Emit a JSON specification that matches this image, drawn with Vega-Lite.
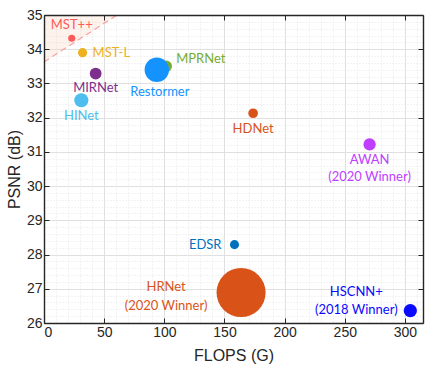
{
  "$schema": "https://vega.github.io/schema/vega-lite/v6.json",
  "width": 379,
  "height": 308,
  "autosize": {"type": "none"},
  "padding": {"left": 44, "top": 15, "right": 15, "bottom": 53},
  "background": "white",
  "config": {
    "view": {"stroke": null},
    "axis": {
      "labelFont": "Liberation Sans",
      "labelFontSize": 14,
      "labelColor": "#262626",
      "titleFont": "Liberation Sans",
      "titleFontSize": 16,
      "titleFontWeight": "normal",
      "titleColor": "#262626",
      "domainColor": "#262626",
      "tickColor": "#262626",
      "grid": false
    }
  },
  "datasets": {
    "models": [
      {"name": "MST++", "flops": 23.05, "psnr": 34.32, "params": 1.62, "note": ""},
      {"name": "MST-L", "flops": 32.07, "psnr": 33.90, "params": 2.45, "note": ""},
      {"name": "MIRNet", "flops": 42.95, "psnr": 33.29, "params": 3.75, "note": ""},
      {"name": "HINet", "flops": 31.04, "psnr": 32.51, "params": 5.21, "note": ""},
      {"name": "MPRNet", "flops": 101.59, "psnr": 33.50, "params": 3.62, "note": ""},
      {"name": "Restormer", "flops": 93.77, "psnr": 33.40, "params": 15.11, "note": ""},
      {"name": "HDNet", "flops": 173.81, "psnr": 32.13, "params": 2.66, "note": ""},
      {"name": "AWAN", "flops": 270.61, "psnr": 31.22, "params": 4.04, "note": "(2020 Winner)"},
      {"name": "EDSR", "flops": 158.32, "psnr": 28.29, "params": 2.42, "note": ""},
      {"name": "HRNet", "flops": 163.81, "psnr": 26.89, "params": 31.70, "note": "(2020 Winner)"},
      {"name": "HSCNN+", "flops": 304.45, "psnr": 26.36, "params": 4.65, "note": "(2018 Winner)"}
    ],
    "boundary": [
      {"flops": 0, "psnr": 33.63},
      {"flops": 60.8, "psnr": 35}
    ]
  },
  "resolve": {"axis": {"x": "independent", "y": "independent"}},
  "layer": [
    {
      "data": {"name": "boundary"},
      "mark": {"type": "area", "color": "#fbd3c3", "opacity": 0.3},
      "encoding": {
        "x": {"field": "flops", "type": "quantitative", "scale": {"domain": [0, 315], "nice": false, "zero": false},
          "axis": {"orient": "bottom", "values": [0, 50, 100, 150, 200, 250, 300], "grid": true, "gridColor": "#e0e0e0", "domain": false, "ticks": false, "labels": false, "title": null, "zindex": 0}},
        "y": {"field": "psnr", "type": "quantitative", "scale": {"domain": [26, 35], "nice": false, "zero": false},
          "axis": {"orient": "left", "values": [26, 27, 28, 29, 30, 31, 32, 33, 34, 35], "grid": true, "gridColor": "#e0e0e0", "domain": false, "ticks": false, "labels": false, "title": null, "zindex": 0}},
        "y2": {"datum": 35}
      }
    },
    {
      "data": {"name": "boundary"},
      "mark": {"type": "line", "color": "#f7a0a0", "strokeDash": [6, 4], "strokeWidth": 1.2},
      "encoding": {
        "x": {"field": "flops", "type": "quantitative",
          "axis": {"orient": "bottom", "values": [10, 20, 30, 40, 60, 70, 80, 90, 110, 120, 130, 140, 160, 170, 180, 190, 210, 220, 230, 240, 260, 270, 280, 290, 310], "grid": true, "gridColor": "#e6e6e6", "gridDash": [1, 2], "domain": false, "ticks": false, "labels": false, "title": null, "zindex": 0}},
        "y": {"field": "psnr", "type": "quantitative",
          "axis": {"orient": "left", "values": [26.2, 26.4, 26.6, 26.8, 27.2, 27.4, 27.6, 27.8, 28.2, 28.4, 28.6, 28.8, 29.2, 29.4, 29.6, 29.8, 30.2, 30.4, 30.6, 30.8, 31.2, 31.4, 31.6, 31.8, 32.2, 32.4, 32.6, 32.8, 33.2, 33.4, 33.6, 33.8, 34.2, 34.4, 34.6, 34.8], "grid": true, "gridColor": "#e6e6e6", "gridDash": [1, 2], "domain": false, "ticks": false, "labels": false, "title": null, "zindex": 0}}
      }
    },
    {
      "data": {"name": "models"},
      "mark": {"type": "circle", "opacity": 1},
      "encoding": {
        "x": {"field": "flops", "type": "quantitative",
          "axis": {"orient": "bottom", "values": [0, 50, 100, 150, 200, 250, 300], "title": "FLOPS (G)", "tickSize": -5, "labelPadding": 7, "titlePadding": 8, "domainWidth": 1.4, "zindex": 1}},
        "y": {"field": "psnr", "type": "quantitative",
          "axis": {"orient": "left", "values": [26, 27, 28, 29, 30, 31, 32, 33, 34, 35], "title": "PSNR (dB)", "tickSize": -5, "labelPadding": 7, "titlePadding": 4, "domainWidth": 1.4, "zindex": 1}},
        "size": {"field": "params", "type": "quantitative", "legend": null,
          "scale": {"domain": [0, 1.62, 5, 15.11, 31.7], "range": [0, 50, 190, 598, 2410]}},
        "color": {"field": "name", "type": "nominal", "legend": null,
          "scale": {"domain": ["MST++", "MST-L", "MIRNet", "HINet", "MPRNet", "Restormer", "HDNet", "AWAN", "EDSR", "HRNet", "HSCNN+"],
            "range": ["#ff5a5a", "#edb120", "#7e2f8e", "#4dbeee", "#77ac30", "#1493ff", "#d95319", "#bf3eff", "#0072bd", "#d95319", "#0a0aff"]}}
      }
    },
    {
      "data": {"name": "models"},
      "transform": [{"filter": "datum.name === 'MST++'"}],
      "mark": {"type": "text", "align": "center", "baseline": "middle", "dy": -13, "font": "Lato", "fontSize": 13},
      "encoding": {
        "x": {"field": "flops", "type": "quantitative",
          "axis": {"orient": "top", "values": [0, 50, 100, 150, 200, 250, 300], "labels": false, "title": null, "tickSize": -5, "domainWidth": 1.4, "zindex": 1}},
        "y": {"field": "psnr", "type": "quantitative",
          "axis": {"orient": "right", "values": [26, 27, 28, 29, 30, 31, 32, 33, 34, 35], "labels": false, "title": null, "tickSize": -5, "domainWidth": 1.4, "zindex": 1}},
        "text": {"field": "name"},
        "color": {"field": "name", "type": "nominal", "legend": null}
      }
    },
    {
      "data": {"name": "models"},
      "transform": [{"filter": "datum.name === 'MST-L'"}],
      "mark": {"type": "text", "align": "left", "baseline": "middle", "dx": 10, "font": "Lato", "fontSize": 13},
      "encoding": {
        "x": {"field": "flops", "type": "quantitative", "axis": null},
        "y": {"field": "psnr", "type": "quantitative", "axis": null},
        "text": {"field": "name"},
        "color": {"field": "name", "type": "nominal", "legend": null}
      }
    },
    {
      "data": {"name": "models"},
      "transform": [{"filter": "datum.name === 'MPRNet'"}],
      "mark": {"type": "text", "align": "left", "baseline": "middle", "dx": 10, "dy": -7, "font": "Lato", "fontSize": 13},
      "encoding": {
        "x": {"field": "flops", "type": "quantitative", "axis": null},
        "y": {"field": "psnr", "type": "quantitative", "axis": null},
        "text": {"field": "name"},
        "color": {"field": "name", "type": "nominal", "legend": null}
      }
    },
    {
      "data": {"name": "models"},
      "transform": [{"filter": "datum.name === 'MIRNet'"}],
      "mark": {"type": "text", "align": "center", "baseline": "middle", "dy": 14, "font": "Lato", "fontSize": 13},
      "encoding": {
        "x": {"field": "flops", "type": "quantitative", "axis": null},
        "y": {"field": "psnr", "type": "quantitative", "axis": null},
        "text": {"field": "name"},
        "color": {"field": "name", "type": "nominal", "legend": null}
      }
    },
    {
      "data": {"name": "models"},
      "transform": [{"filter": "datum.name === 'HINet' || datum.name === 'HDNet' || datum.name === 'AWAN'"}],
      "mark": {"type": "text", "align": "center", "baseline": "middle", "dy": 16, "font": "Lato", "fontSize": 13},
      "encoding": {
        "x": {"field": "flops", "type": "quantitative", "axis": null},
        "y": {"field": "psnr", "type": "quantitative", "axis": null},
        "text": {"field": "name"},
        "color": {"field": "name", "type": "nominal", "legend": null}
      }
    },
    {
      "data": {"name": "models"},
      "transform": [{"filter": "datum.name === 'AWAN'"}],
      "mark": {"type": "text", "align": "center", "baseline": "middle", "dy": 33, "font": "Lato", "fontSize": 13},
      "encoding": {
        "x": {"field": "flops", "type": "quantitative", "axis": null},
        "y": {"field": "psnr", "type": "quantitative", "axis": null},
        "text": {"field": "note"},
        "color": {"field": "name", "type": "nominal", "legend": null}
      }
    },
    {
      "data": {"name": "models"},
      "transform": [{"filter": "datum.name === 'Restormer'"}],
      "mark": {"type": "text", "align": "center", "baseline": "middle", "dx": 3, "dy": 22, "font": "Lato", "fontSize": 13},
      "encoding": {
        "x": {"field": "flops", "type": "quantitative", "axis": null},
        "y": {"field": "psnr", "type": "quantitative", "axis": null},
        "text": {"field": "name"},
        "color": {"field": "name", "type": "nominal", "legend": null}
      }
    },
    {
      "data": {"name": "models"},
      "transform": [{"filter": "datum.name === 'EDSR'"}],
      "mark": {"type": "text", "align": "right", "baseline": "middle", "dx": -13, "font": "Lato", "fontSize": 13},
      "encoding": {
        "x": {"field": "flops", "type": "quantitative", "axis": null},
        "y": {"field": "psnr", "type": "quantitative", "axis": null},
        "text": {"field": "name"},
        "color": {"field": "name", "type": "nominal", "legend": null}
      }
    },
    {
      "data": {"name": "models"},
      "transform": [{"filter": "datum.name === 'HRNet'"}],
      "mark": {"type": "text", "align": "center", "baseline": "middle", "dx": -75, "dy": -6, "font": "Lato", "fontSize": 13},
      "encoding": {
        "x": {"field": "flops", "type": "quantitative", "axis": null},
        "y": {"field": "psnr", "type": "quantitative", "axis": null},
        "text": {"field": "name"},
        "color": {"field": "name", "type": "nominal", "legend": null}
      }
    },
    {
      "data": {"name": "models"},
      "transform": [{"filter": "datum.name === 'HRNet'"}],
      "mark": {"type": "text", "align": "center", "baseline": "middle", "dx": -75, "dy": 13, "font": "Lato", "fontSize": 13},
      "encoding": {
        "x": {"field": "flops", "type": "quantitative", "axis": null},
        "y": {"field": "psnr", "type": "quantitative", "axis": null},
        "text": {"field": "note"},
        "color": {"field": "name", "type": "nominal", "legend": null}
      }
    },
    {
      "data": {"name": "models"},
      "transform": [{"filter": "datum.name === 'HSCNN+'"}],
      "mark": {"type": "text", "align": "center", "baseline": "middle", "dx": -54, "dy": -19, "font": "Lato", "fontSize": 13},
      "encoding": {
        "x": {"field": "flops", "type": "quantitative", "axis": null},
        "y": {"field": "psnr", "type": "quantitative", "axis": null},
        "text": {"field": "name"},
        "color": {"field": "name", "type": "nominal", "legend": null}
      }
    },
    {
      "data": {"name": "models"},
      "transform": [{"filter": "datum.name === 'HSCNN+'"}],
      "mark": {"type": "text", "align": "center", "baseline": "middle", "dx": -54, "dy": -1, "font": "Lato", "fontSize": 13},
      "encoding": {
        "x": {"field": "flops", "type": "quantitative", "axis": null},
        "y": {"field": "psnr", "type": "quantitative", "axis": null},
        "text": {"field": "note"},
        "color": {"field": "name", "type": "nominal", "legend": null}
      }
    }
  ]
}
